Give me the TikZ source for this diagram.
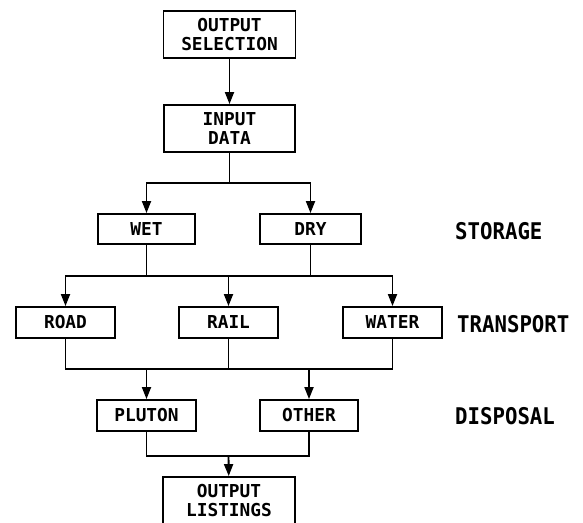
\documentclass[tikz,border=0pt]{standalone}
\usepackage{fontspec}
\newfontfamily\boxfont{DejaVu Sans Mono}
\newfontfamily\labfont[FakeStretch=0.9]{DejaVu Sans Mono}
\usetikzlibrary{arrows.meta}
\begin{document}
\begin{tikzpicture}[x=1pt,y=-1pt,
  box/.style={draw, line width=1.9pt, inner sep=0pt, align=center,
    font=\boxfont\bfseries\fontsize{17.8}{19}\selectfont},
  wbox/.style={box, minimum width=99pt, minimum height=31pt},
  bigbox/.style={box, minimum width=132pt, minimum height=47pt},
  lab/.style={anchor=west, inner sep=0pt, font=\labfont\bfseries\fontsize{23}{25}\selectfont},
  conn/.style={line width=1.9pt},
  arr/.style={conn, -{Triangle[length=12pt,width=9pt]}}]
\useasboundingbox[fill=white] (0,0) rectangle (583,522);
% nodes
\node[bigbox] (os) at (229.5,34.5) {OUTPUT\\SELECTION};
\node[bigbox, minimum width=131pt] (id) at (229.5,128.5) {INPUT\\DATA};
\node[wbox, minimum width=97pt, minimum height=30pt] (wet) at (146.5,229) {WET};
\node[wbox, minimum width=101pt, minimum height=30pt] (dry) at (310.5,229) {DRY};
\node[wbox] (road) at (65.5,322.5) {ROAD};
\node[wbox] (rail) at (228.5,322.5) {RAIL};
\node[wbox] (water) at (392.5,322.5) {WATER};
\node[wbox] (pluton) at (146.5,415.5) {PLUTON};
\node[wbox, minimum width=98pt] (other) at (309,415.5) {OTHER};
\node[bigbox] (ol) at (229,500.5) {OUTPUT\\LISTINGS};
% labels
\node[lab] (storage) at (455,231) {STORAGE};
\node[lab] (transport) at (457,324) {TRANSPORT};
\node[lab] (disposal) at (455,416) {DISPOSAL};
% junctions
\coordinate (j1) at (229.5,183);
\coordinate (j2) at (146.5,276);
\coordinate (j3) at (310.5,276);
\coordinate (j4) at (228.5,369);
\coordinate (j5) at (228.5,456);
% connectors
\draw[arr] (os) -- (id);
\draw[conn] (id) -- (j1);
\draw[arr] (j1) -| (wet);
\draw[arr] (j1) -| (dry);
\draw[conn] (wet) -- (j2);
\draw[conn] (dry) -- (j3);
\draw[conn] (j2) -- (j3);
\draw[arr] (j2) -| (road);
\draw[arr] (j2) -| (rail);
\draw[arr] (j3) -| (water);
\draw[conn] (road) |- (j4) -| (water);
\draw[conn] (rail) -- (j4);
\draw[arr] (j4) -| (pluton);
\draw[arr] (j4) -| (other);
\draw[conn] (pluton) |- (j5) -| (other);
\draw[arr] (j5) -- (ol);
\end{tikzpicture}
\end{document}
